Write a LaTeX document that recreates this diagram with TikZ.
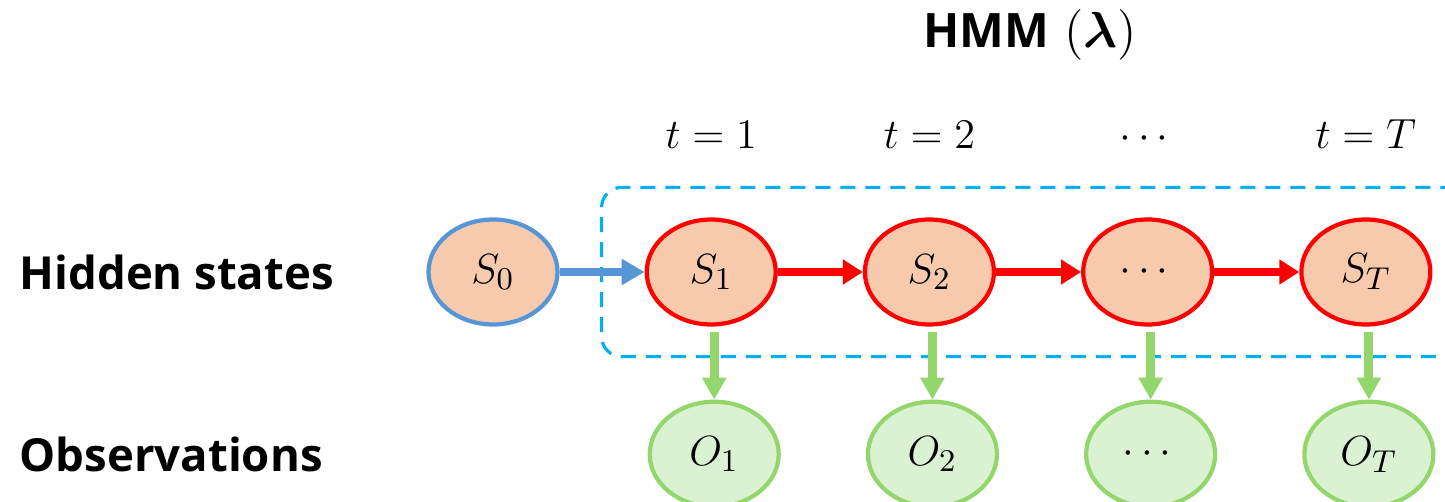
\documentclass[tikz,border=0pt]{standalone}
\usepackage{amsmath,amssymb}
\usepackage{fontspec}
\setsansfont{Open Sans}
\usetikzlibrary{arrows.meta,positioning,fit,shapes.geometric}
\definecolor{ink}{RGB}{0,0,0}
\definecolor{peach}{RGB}{247,201,173}
\definecolor{hot}{RGB}{255,0,0}
\definecolor{sky}{RGB}{86,150,214}
\definecolor{leaf}{RGB}{219,242,210}
\definecolor{leafline}{RGB}{146,214,108}
\definecolor{frame}{RGB}{0,176,240}
\tikzset{
  hid/.style={ellipse,draw=hot,line width=1.2pt,fill=peach,inner sep=0pt,
    minimum width=1.29cm,minimum height=1.05cm,font=\fontsize{13}{15}\selectfont},
  obs/.style={hid,draw=leafline,fill=leaf},
  trans/.style={-{Triangle[length=2mm,width=2.4mm]},line width=2.5pt,hot},
  emit/.style={-{Triangle[length=2.2mm,width=2.3mm]},line width=2.5pt,leafline},
  rowlbl/.style={font=\sffamily\bfseries\fontsize{12.95}{15}\selectfont,anchor=west,inner sep=0pt},
  tlbl/.style={font=\fontsize{12.4}{15}\selectfont},
}

\begin{document}
\begin{tikzpicture}[node distance=8.5mm]
  \useasboundingbox (0,0) rectangle (14.45,5.02);
  % hidden chain
  \node[hid,draw=sky] (s0) at (4.93,2.30) {$S_0$};
  \node[hid,right=of s0] (s1) {$S_1$};
  \node[hid,right=of s1] (s2) {$S_2$};
  \node[hid,right=of s2] (s3) {$\cdots$};
  \node[hid,right=of s3] (sT) {$S_T$};

  % observations
  \node[obs,below=7.3mm of s1,xshift=0.3mm] (o1) {$O_1$};
  \node[obs,below=7.3mm of s2,xshift=0.3mm] (o2) {$O_2$};
  \node[obs,below=7.3mm of s3,xshift=0.3mm] (o3) {$\cdots$};
  \node[obs,below=7.3mm of sT,xshift=0.3mm] (oT) {$O_T$};

  % time steps
  \node[tlbl,above=5.6mm of s1] (t1) {$t=1$};
  \node[tlbl,above=5.6mm of s2] (t2) {$t=2$};
  \node[tlbl,above=5.6mm of s3] (t3) {$\cdots$};
  \node[tlbl,above=5.6mm of sT] (tT) {$t=T$};
  \node[font=\fontsize{13.5}{16}\selectfont,anchor=base] (hmm) at (10.30,4.54)
    {{\sffamily\bfseries HMM} $(\boldsymbol{\lambda})$};

  % row names
  \coordinate (lx) at (0.19,0);
  \node[rowlbl] (lh) at (lx |- s0) {Hidden states};
  \node[rowlbl] (lo) at (lx |- o1) {Observations};

  % model frame
  \node[fit=(s1)(sT),inner xsep=4.3mm,inner ysep=3mm,draw=frame,
    line width=0.9pt,dash pattern=on 1.5mm off 1mm,rounded corners=2mm] (box) {};

  \draw[-{Triangle[length=2.3mm,width=2.5mm]},line width=2.5pt,sky] (s0) -- (s1);
  \foreach \a/\b in {s1/s2,s2/s3,s3/sT}
    \draw[trans] (\a) -- (\b);
  \foreach \a/\b in {s1/o1,s2/o2,s3/o3,sT/oT}
    \draw[emit,shorten <=0.5mm] (\a.south -| \b.north) -- (\b.north);
\end{tikzpicture}
\end{document}
